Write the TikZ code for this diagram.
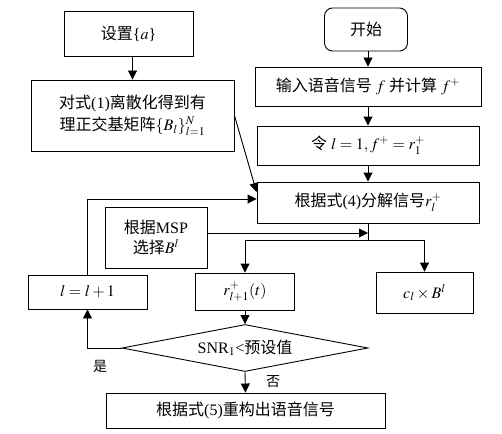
\documentclass[tikz,border=0pt]{standalone}
\usepackage{mathptmx}
\usepackage{fontspec}
\setmainfont{Liberation Serif}
\newfontfamily\cjk{Noto Sans CJK SC}
\usetikzlibrary{arrows.meta,shapes.geometric}
\begin{document}
\begin{tikzpicture}[x=1pt,y=-1pt,
  box/.style={draw,line width=0.9pt,inner sep=0pt,align=center,font=\fontsize{16}{22}\selectfont},
  arr/.style={-{Triangle[length=9pt,width=9pt]},line width=0.9pt},
  ln/.style={line width=0.9pt},
  lab/.style={inner sep=0pt,font=\fontsize{14}{16}\selectfont\cjk}]
\useasboundingbox (0,0) rectangle (502,433);
\node[box,minimum width=129pt,minimum height=45pt] (seta) at (128.5,33.5) {{\cjk 设置}\{$a$\}};
\node[box,minimum width=203pt,minimum height=71pt] (disc) at (132.5,115.5) {{\cjk 对式}(1){\cjk 离散化得到有}\\{\cjk 理正交基矩阵}$\{B_l\}_{l=1}^{N}$};
\node[box,rounded corners=8pt,minimum width=83pt,minimum height=43pt] (start) at (366,29.5) {\cjk 开始};
\node[box,minimum width=226pt,minimum height=39pt] (input) at (368,86.5) {{\cjk 输入语音信号} $f$ {\cjk 并计算} $f^{+}$};
\node[box,minimum width=222pt,minimum height=39pt] (init) at (368,145.5) {{\cjk 令} $l=1, f^{+}=r_1^{+}$};
\node[box,minimum width=222pt,minimum height=41pt] (decomp) at (368,202.5) {{\cjk 根据式}(4){\cjk 分解信号}$r_l^{+}$};
\node[box,minimum width=102pt,minimum height=61pt,font=\fontsize{16}{20}\selectfont] (msp) at (156,237.5) {{\cjk 根据}MSP\\{\cjk 选择}$B^{l}$};
\node[box,minimum width=99pt,minimum height=37pt] (r) at (245,291.5) {$r_{l+1}^{+}(t)$};
\node[box,minimum width=97pt,minimum height=41pt] (c) at (424.5,292.5) {$c_l\times B^{l}$};
\node[box,minimum width=119pt,minimum height=34pt] (inc) at (87.5,292) {$l=l+1$};
\node[box,diamond,aspect=5,minimum width=246pt,minimum height=47pt] (dia) at (245,348) {SNR$_1$<{\cjk 预设值}};
\node[box,minimum width=279pt,minimum height=35pt] (fin) at (245.5,410.5) {{\cjk 根据式}(5){\cjk 重构出语音信号}};
\node[lab] (yes) at (100,366) {是};
\node[lab] (no) at (273,382) {否};
\coordinate (br) at (368,240);
\draw[arr] (disc.north |- seta.south) -- (disc.north);
\draw[arr] (start.south -| input.north) -- (input.north);
\draw[arr] (input.south) -- (init.north);
\draw[arr] (init.south) -- (decomp.north);
\draw[arr] (disc.east) -- ([yshift=10.5pt]decomp.west);
\draw[arr] (inc.north) |- ([yshift=3.5pt]decomp.west);
\draw[ln] (decomp.south) -- (br);
\draw[arr] (br) -| (r.north);
\draw[arr] (br) -| (c.north);
\draw[arr] ([yshift=4.5pt]msp.east) -- ([yshift=4.5pt]msp.east -| br);
\draw[arr] (r.south) -- (dia.north);
\draw[arr] (dia.west) -| (inc.south);
\draw[arr] (dia.south) -- (fin.north);
\end{tikzpicture}
\end{document}
